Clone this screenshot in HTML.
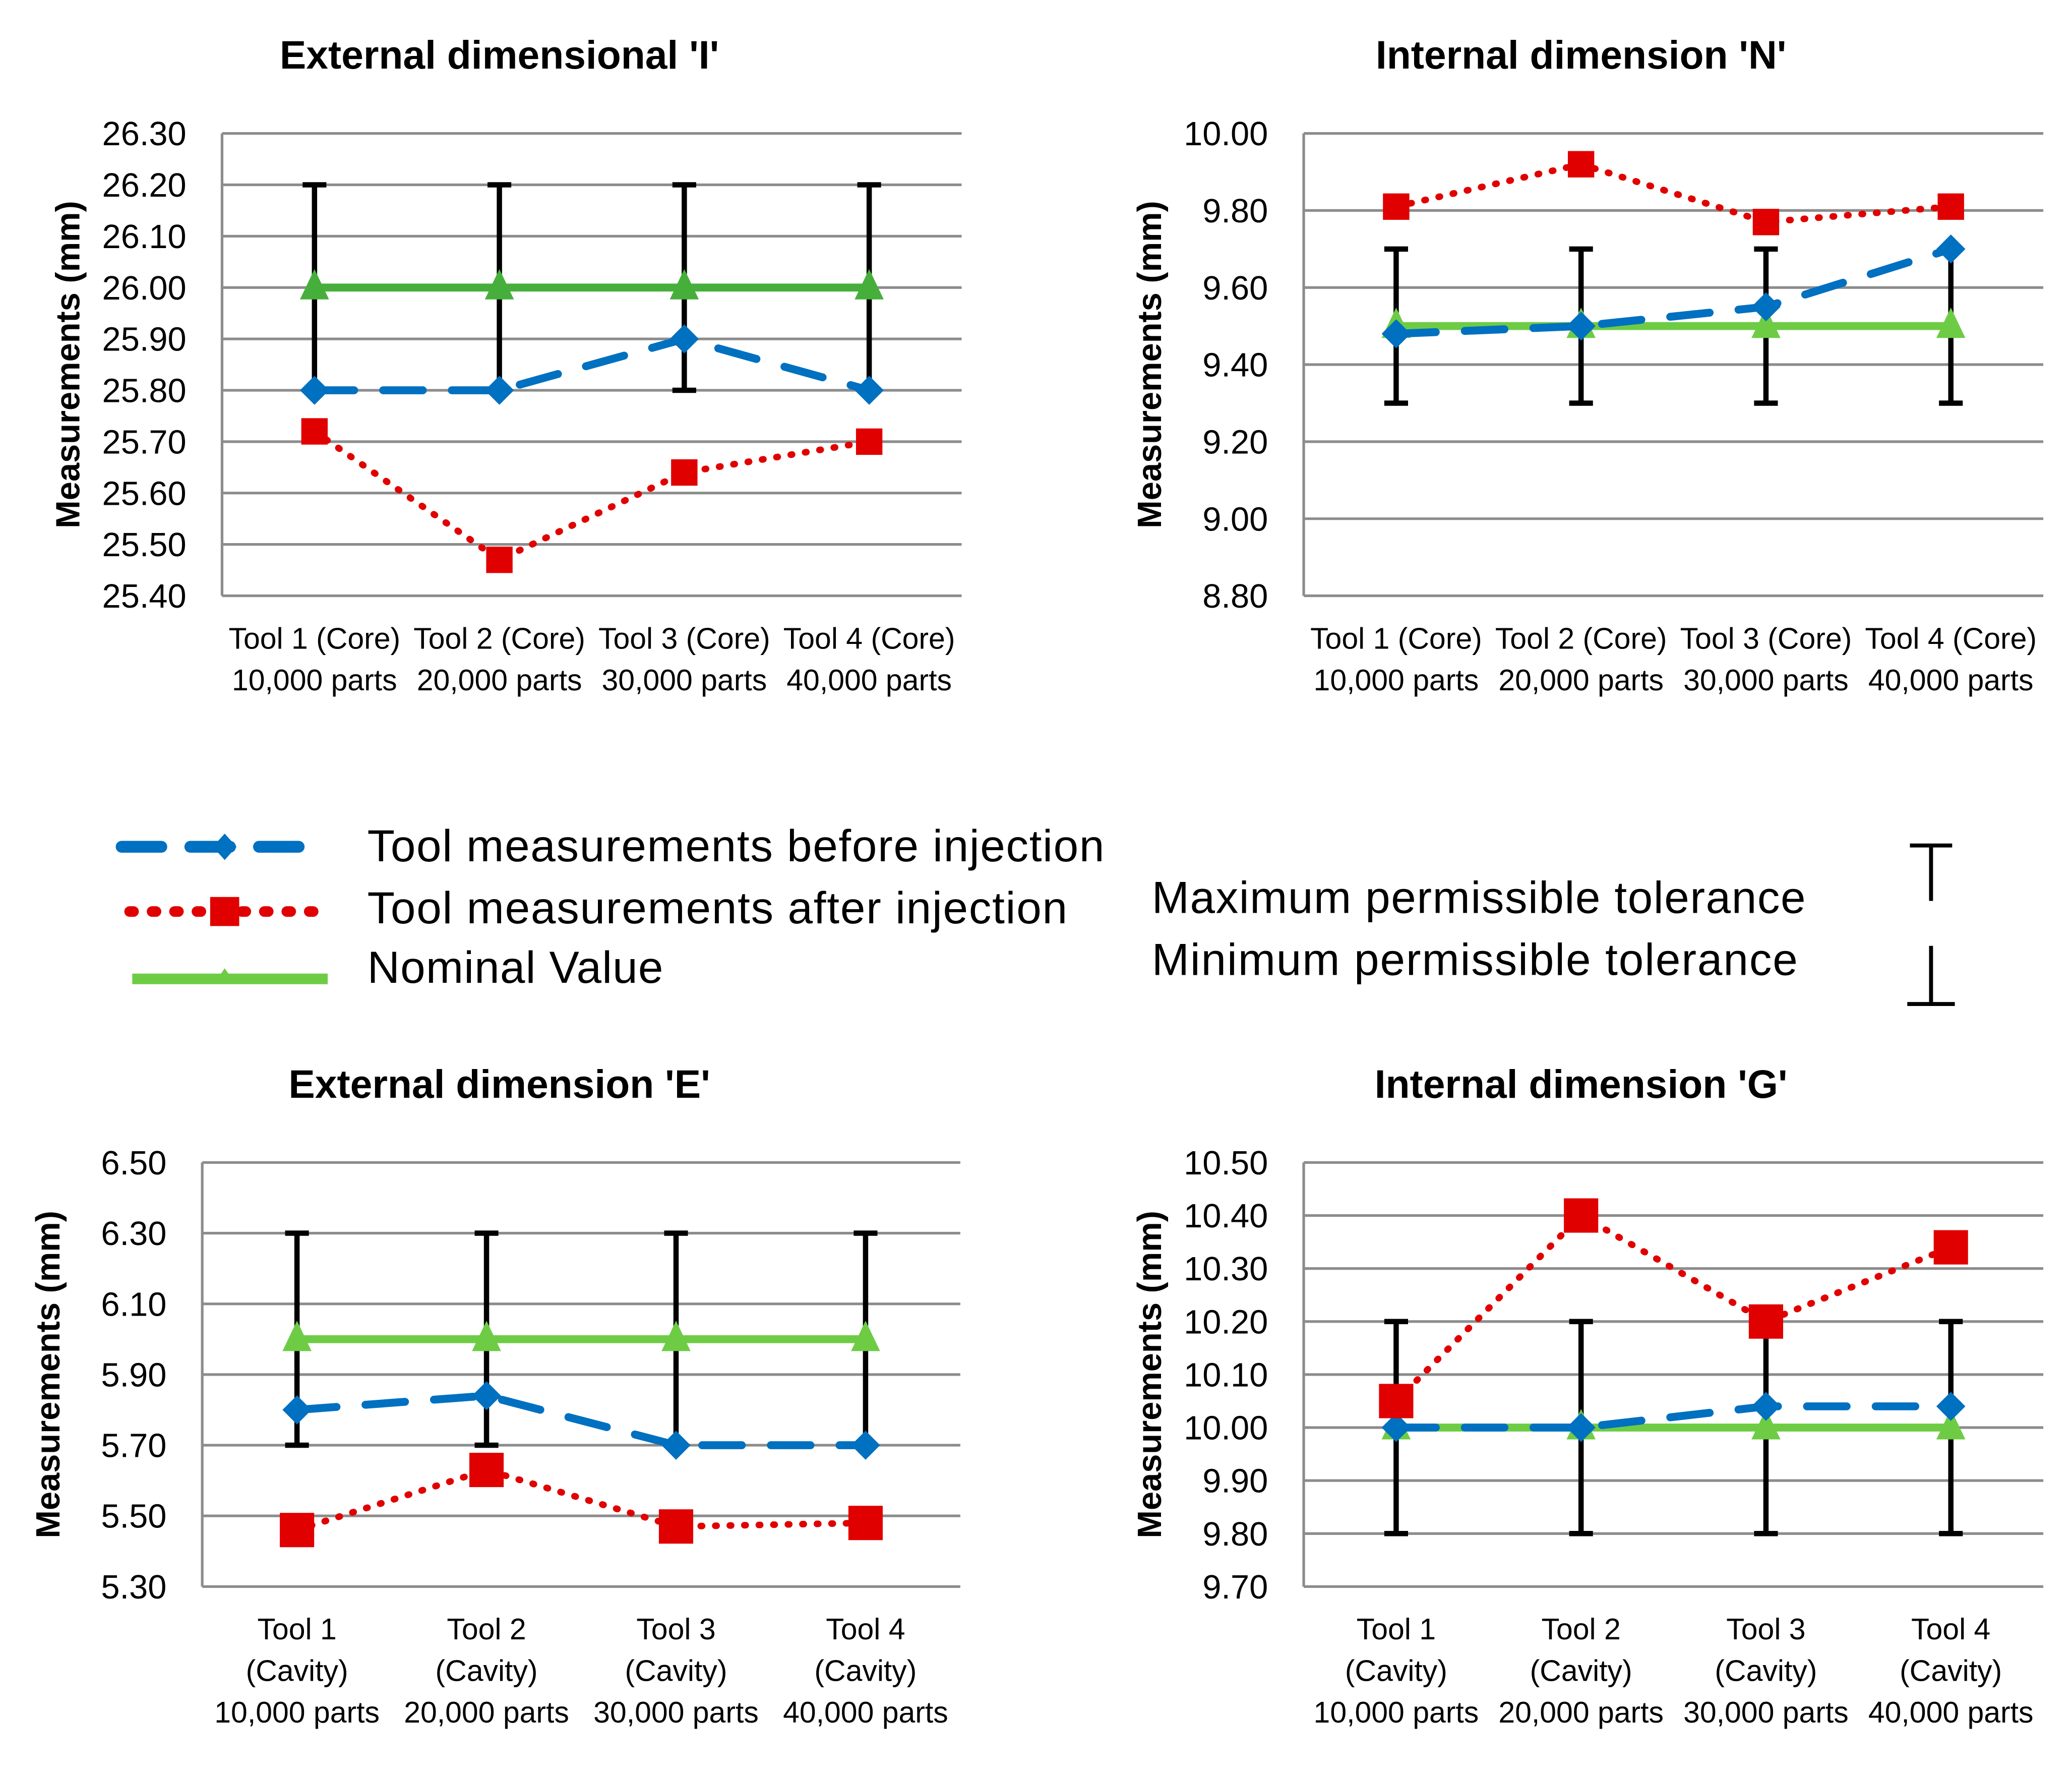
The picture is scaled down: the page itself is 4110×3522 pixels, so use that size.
<!DOCTYPE html>
<html><head><meta charset="utf-8"><style>
html,body{margin:0;padding:0;background:#fff}
svg{display:block}
text{font-family:"Liberation Sans",sans-serif}
</style></head><body>
<svg id="root" width="4110" height="3522" viewBox="0 0 1568.6 1344.4" xmlns="http://www.w3.org/2000/svg">
<g>
<line x1="92" y1="641" x2="240" y2="641" stroke="#0070c0" stroke-width="9" stroke-dasharray="30,22" stroke-linecap="round"/>
<path d="M170 631 L179 641 L170 651 L161 641Z" fill="#0070c0"/>
<text x="278" y="652" font-size="34" textLength="558">Tool measurements before injection</text>
<line x1="98" y1="690" x2="240" y2="690" stroke="#e00000" stroke-width="8" stroke-dasharray="3,14" stroke-linecap="round"/>
<rect x="159" y="679" width="22" height="22" fill="#e00000"/>
<text x="278" y="699" font-size="34" textLength="530">Tool measurements after injection</text>
<line x1="100" y1="741" x2="248" y2="741" stroke="#6dcc44" stroke-width="8"/>
<path d="M170 733 L177 743 L163 743Z" fill="#6dcc44"/>
<text x="278" y="744" font-size="34" textLength="224">Nominal Value</text>
<text x="872" y="691" font-size="34" textLength="495">Maximum permissible tolerance</text>
<text x="872" y="738" font-size="34" textLength="489">Minimum permissible tolerance</text>
<path d="M1446 640 H1478 M1462 640 V682" stroke="#000" stroke-width="3"/>
<path d="M1444 760 H1480 M1462 716 V760" stroke="#000" stroke-width="3"/>
</g>
</svg>
<script>
const catsTop = [["Tool 1 (Core)","10,000 parts"],["Tool 2 (Core)","20,000 parts"],["Tool 3 (Core)","30,000 parts"],["Tool 4 (Core)","40,000 parts"]];
const catsBot = [["Tool 1","(Cavity)","10,000 parts"],["Tool 2","(Cavity)","20,000 parts"],["Tool 3","(Cavity)","30,000 parts"],["Tool 4","(Cavity)","40,000 parts"]];
const beforeI = [25.80,25.80,25.90,25.80];
const afterI = [25.72,25.47,25.64,25.70];
const nominalI = [26.00,26.00,26.00,26.00];
const maxI = [26.20,26.20,26.20,26.20];
const minI = [25.80,25.80,25.80,25.80];
const ticksI = ["25.40","25.50","25.60","25.70","25.80","25.90","26.00","26.10","26.20","26.30"];
const beforeN = [9.48,9.50,9.55,9.70];
const afterN = [9.81,9.92,9.77,9.81];
const nominalN = [9.50,9.50,9.50,9.50];
const maxN = [9.70,9.70,9.70,9.70];
const minN = [9.30,9.30,9.30,9.30];
const ticksN = ["8.80","9.00","9.20","9.40","9.60","9.80","10.00"];
const beforeE = [5.80,5.84,5.70,5.70];
const afterE = [5.46,5.63,5.47,5.48];
const nominalE = [6.00,6.00,6.00,6.00];
const maxE = [6.30,6.30,6.30,6.30];
const minE = [5.70,5.70,5.70,5.70];
const ticksE = ["5.30","5.50","5.70","5.90","6.10","6.30","6.50"];
const beforeG = [10.00,10.00,10.04,10.04];
const afterG = [10.05,10.40,10.20,10.34];
const nominalG = [10.00,10.00,10.00,10.00];
const maxG = [10.20,10.20,10.20,10.20];
const minG = [9.80,9.80,9.80,9.80];
const ticksG = ["9.70","9.80","9.90","10.00","10.10","10.20","10.30","10.40","10.50"];

const NS="http://www.w3.org/2000/svg";
const root=document.getElementById('root');
function mk(tag,attrs,parent){const e=document.createElementNS(NS,tag);for(const k in attrs)e.setAttribute(k,attrs[k]);parent.appendChild(e);return e;}

function chart(o){
  const g=mk('g',{},root);
  
  
  const lo=parseFloat(o.ticks[0]),hi=parseFloat(o.ticks[o.ticks.length-1]);
  const y=v=>o.y1-(v-lo)/(hi-lo)*(o.y1-o.y0);
  const n=o.cats.length,step=(o.x1-o.x0)/n;
  const x=i=>o.x0+step*(i+0.5);
  const t=mk('text',{x:o.titleX,y:o.y0-49,'font-size':30,'font-weight':'bold','text-anchor':'middle'},g);
  t.textContent=o.title;
  
  
  o.ticks.forEach(tk=>{
    const v=parseFloat(tk),yy=y(v);
    const ln=mk('line',{x1:o.x0,x2:o.x1,y1:yy,y2:yy,stroke:'#8c8c8c','stroke-width':2},g);
    
    
    const tx=mk('text',{x:o.x0-27,y:yy+9,'font-size':25.5,'text-anchor':'end'},g);
    tx.textContent=tk;
    
    
  });
  const ax=mk('line',{x1:o.x0,x2:o.x0,y1:o.y0,y2:o.y1,stroke:'#8c8c8c','stroke-width':2},g);
  
  
  const yt=mk('text',{x:0,y:0,'font-size':25.5,'font-weight':'bold','text-anchor':'middle',transform:`translate(${o.x0-108},${(o.y0+o.y1)/2}) rotate(-90)`},g);
  yt.textContent='Measurements (mm)';
  
  
  o.cats.forEach((c,i)=>{
    c.forEach((s,j)=>{
      const tx=mk('text',{x:x(i),y:o.y1+40+j*31.5,'font-size':22.5,'text-anchor':'middle'},g);
      tx.textContent=s;
      
      
    });
  });
  o.max.forEach((m,i)=>{
    const eb=mk('path',{d:`M${x(i)} ${y(m)} V${y(o.min[i])} M${x(i)-9} ${y(m)} H${x(i)+9} M${x(i)-9} ${y(o.min[i])} H${x(i)+9}`,stroke:'#000','stroke-width':4,fill:'none'},g);
    
    
  });
  const pts=a=>a.map((v,i)=>x(i)+','+y(v)).join(' ');
  const nl=mk('polyline',{points:pts(o.nominal),fill:'none',stroke:o.green,'stroke-width':6},g);
  
  
  o.nominal.forEach((v,i)=>{
    const p=mk('path',{d:`M${x(i)} ${y(v)-14} L${x(i)+11} ${y(v)+9} L${x(i)-11} ${y(v)+9}Z`,fill:o.green},g);
    
    
  });
  const bl=mk('polyline',{points:pts(o.before),fill:'none',stroke:'#0070c0','stroke-width':6,'stroke-dasharray':'30,22','stroke-linecap':'round'},g);
  
  
  o.before.forEach((v,i)=>{
    const p=mk('path',{d:`M${x(i)} ${y(v)-11} L${x(i)+11} ${y(v)} L${x(i)} ${y(v)+11} L${x(i)-11} ${y(v)}Z`,fill:'#0070c0'},g);
    
    
  });
  const al=mk('polyline',{points:pts(o.after),fill:'none',stroke:'#e00000','stroke-width':5,'stroke-dasharray':'1,10','stroke-linecap':'round'},g);
  
  
  o.after.forEach((v,i)=>{
    const s=o.sq;
    const p=mk('rect',{x:x(i)-s/2,y:y(v)-s/2,width:s,height:s,fill:'#e00000'},g);
    
    
  });
}
chart({name:'chart-external-i',title:"External dimensional 'I'",titleX:378,x0:168,x1:728,y0:101,y1:451,ticks:ticksI,cats:catsTop,before:beforeI,after:afterI,nominal:nominalI,max:maxI,min:minI,green:'#46af3b',sq:20});
chart({name:'chart-internal-n',title:"Internal dimension 'N'",titleX:1197,x0:987,x1:1547,y0:101,y1:451,ticks:ticksN,cats:catsTop,before:beforeN,after:afterN,nominal:nominalN,max:maxN,min:minN,green:'#6dcc44',sq:20});
chart({name:'chart-external-e',title:"External dimension 'E'",titleX:378,x0:153,x1:727,y0:880,y1:1201,ticks:ticksE,cats:catsBot,before:beforeE,after:afterE,nominal:nominalE,max:maxE,min:minE,green:'#6dcc44',sq:26});
chart({name:'chart-internal-g',title:"Internal dimension 'G'",titleX:1197,x0:987,x1:1547,y0:880,y1:1201,ticks:ticksG,cats:catsBot,before:beforeG,after:afterG,nominal:nominalG,max:maxG,min:minG,green:'#6dcc44',sq:26});
</script>
</body></html>
